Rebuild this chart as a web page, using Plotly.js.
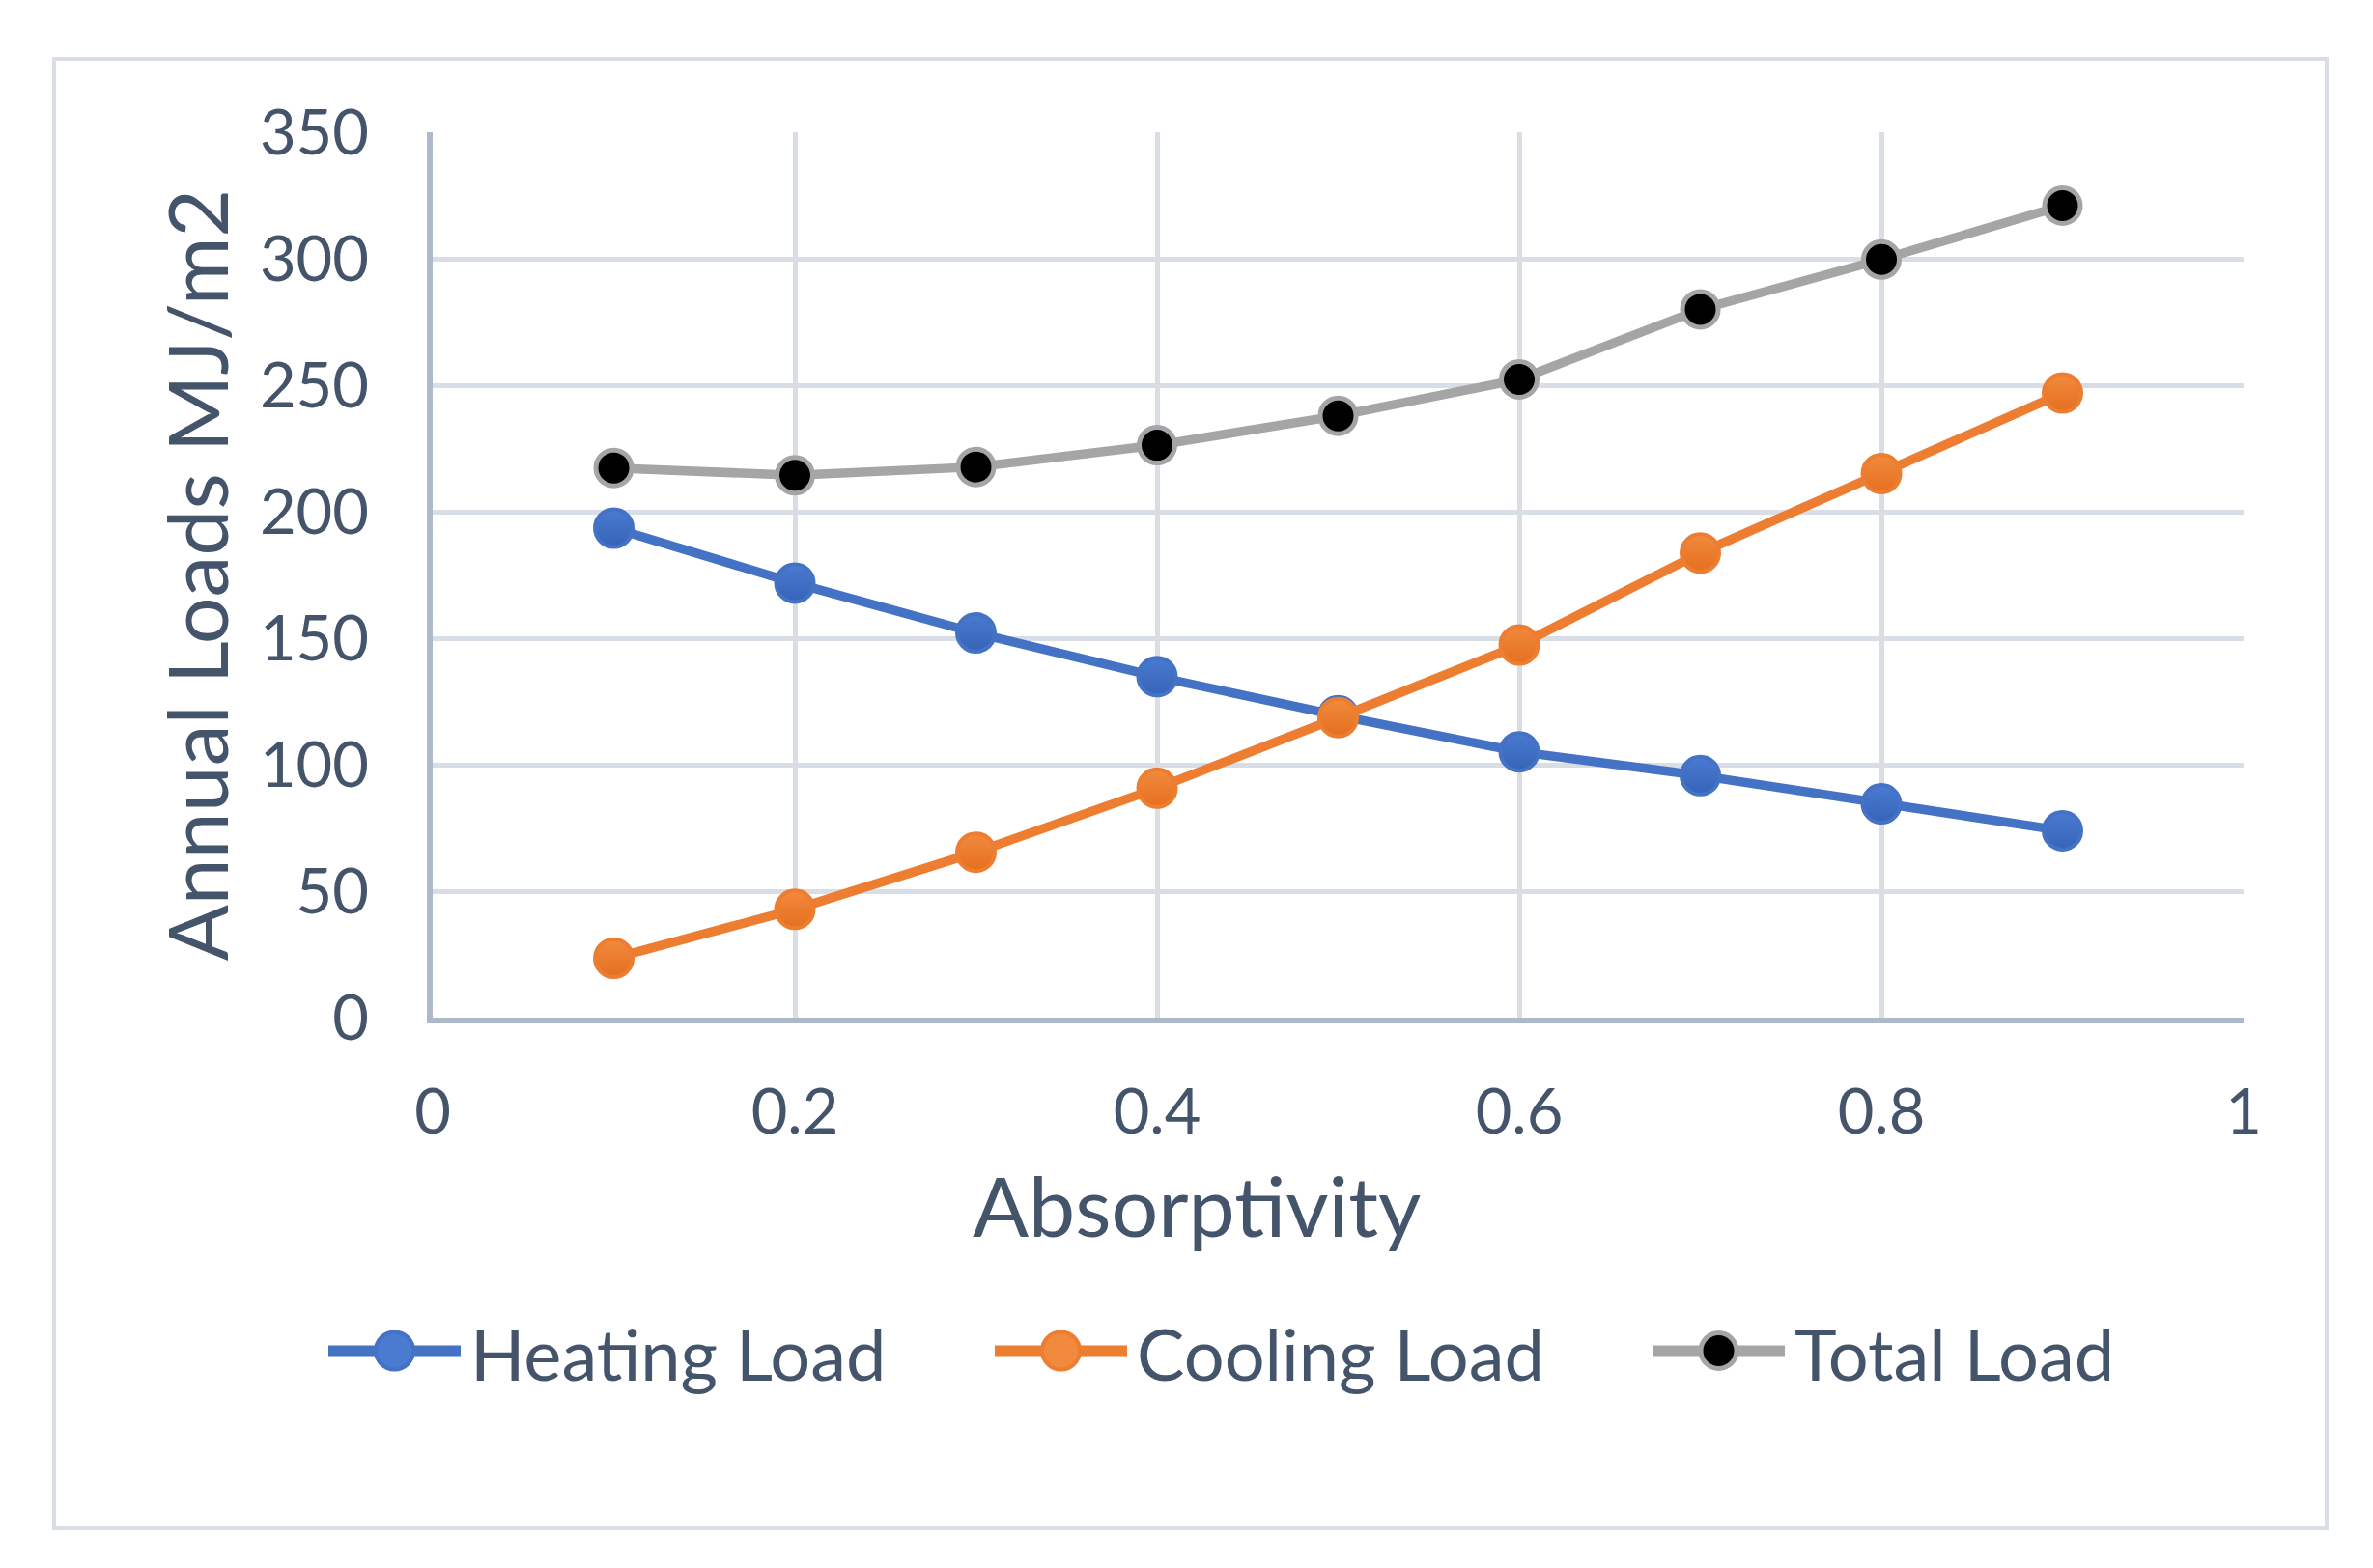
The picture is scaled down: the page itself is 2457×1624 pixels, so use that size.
<!DOCTYPE html>
<html>
<head>
<meta charset="utf-8">
<script src="https://cdn.plot.ly/plotly-3.0.1.min.js"></script>
<style>
  html, body { margin: 0; padding: 0; background: #ffffff; }
  #chart { width: 2457px; height: 1624px; }
  #frame { position: absolute; left: 54px; top: 59px; width: 2357px; height: 1526px;
           box-sizing: border-box; border: 4px solid #D9DEE6; pointer-events: none; }
</style>
</head>
<body>
<div id="chart"></div>
<div id="frame"></div>
<script>
const absorptivity = [0.1, 0.2, 0.3, 0.4, 0.5, 0.6, 0.7, 0.8, 0.9];
const heatingLoad  = [193.5, 171.8, 152.1, 134.8, 119.4, 105.1, 95.7, 84.5, 73.9];
const coolingLoad  = [23.5, 42.8, 65.4, 90.7, 118.6, 147.3, 183.7, 215.1, 246.9];
const totalLoad    = [217.3, 214.4, 217.7, 226.3, 237.9, 252.3, 280.0, 299.7, 321.0];
const seriesNames  = ['Heating Load', 'Cooling Load', 'Total Load'];
const xTicks = [0, 0.2, 0.4, 0.6, 0.8, 1];
const xTickText = ['0', '0.2', '0.4', '0.6', '0.8', '1'];
const yTicks = [0, 50, 100, 150, 200, 250, 300, 350];

const textColor = '#44546A';
const gridColor = '#D9DEE6';
const axisColor = '#ADB9CA';
const FONT = 'Lato, "Open Sans", sans-serif';

const styles = [
  { line: '#4472C4', fill: '#4A7BD0', edge: '#4472C4', grad: '#3563B8', size: 39, edgeW: 4 },
  { line: '#ED7D31', fill: '#F28A3E', edge: '#ED7D31', grad: '#E56F1E', size: 39, edgeW: 4 },
  { line: '#A5A5A5', fill: '#000000', edge: '#A5A5A5', grad: null, size: 37, edgeW: 5 }
];
const seriesValues = [heatingLoad, coolingLoad, totalLoad];

const traces = seriesValues.map((vals, i) => {
  const s = styles[i];
  const marker = { size: s.size, color: s.fill, line: { color: s.edge, width: s.edgeW } };
  if (s.grad) marker.gradient = { type: 'vertical', color: s.grad };
  return {
    x: absorptivity, y: vals, name: seriesNames[i], type: 'scatter', mode: 'lines+markers',
    line: { color: s.line, width: 9.5 }, marker: marker, showlegend: false
  };
});

// plot-area geometry in pixels (for converting legend layout to paper coords)
const M = { l: 448, r: 134, t: 137, b: 570 };
const W = 2457, H = 1624;
const plotW = W - M.l - M.r, plotH = H - M.t - M.b;
const px2x = px => (px - M.l) / plotW;
const py2y = py => (H - M.b - py) / plotH;

// custom legend (Plotly caps legend marker size, so it is built here)
const legendY = 1399;
const legendLineStart = [340, 1030, 1711];
const legendLineLen = 137;
const shapes = [];
const annotations = [];
seriesNames.forEach((name, i) => {
  const s = styles[i];
  const x0 = legendLineStart[i], x1 = x0 + legendLineLen, xc = (x0 + x1) / 2;
  shapes.push({ type: 'line', xref: 'paper', yref: 'paper',
    x0: px2x(x0), x1: px2x(x1), y0: py2y(legendY), y1: py2y(legendY),
    line: { color: s.line, width: 11 } });
  shapes.push({ type: 'circle', xref: 'paper', yref: 'paper',
    xsizemode: 'pixel', ysizemode: 'pixel', xanchor: px2x(xc), yanchor: py2y(legendY),
    x0: -s.size / 2, x1: s.size / 2, y0: -s.size / 2, y1: s.size / 2,
    fillcolor: s.fill, line: { color: s.edge, width: s.edgeW } });
  annotations.push({ text: name, xref: 'paper', yref: 'paper',
    x: px2x(x1 + 8), y: py2y(legendY + 2), xanchor: 'left', yanchor: 'middle', showarrow: false,
    font: { family: FONT, size: 74, color: textColor } });
});
annotations.push({ text: 'Absorptivity', xref: 'paper', yref: 'paper', x: px2x(1239), y: py2y(1247),
  xanchor: 'center', yanchor: 'middle', showarrow: false,
  font: { family: FONT, size: 86, color: textColor } });

const layout = {
  width: W, height: H,
  paper_bgcolor: '#ffffff', plot_bgcolor: '#ffffff',
  margin: { l: M.l, r: M.r, t: M.t, b: M.b, pad: 0 },
  font: { family: FONT, color: textColor, size: 66 },
  showlegend: false,
  xaxis: {
    range: [0, 1], tickvals: xTicks, ticktext: xTickText,
    showgrid: true, gridcolor: gridColor, gridwidth: 5,
    showline: true, linecolor: axisColor, linewidth: 6,
    zeroline: false, ticks: '', ticklabelstandoff: 36,
    tickfont: { family: FONT, size: 65, color: textColor },
    fixedrange: true
  },
  yaxis: {
    range: [0, 350], tickvals: yTicks,
    showgrid: true, gridcolor: gridColor, gridwidth: 5,
    showline: true, linecolor: axisColor, linewidth: 6,
    zeroline: false, ticks: '', ticklabelstandoff: 47,
    tickfont: { family: FONT, size: 65, color: textColor },
    title: { text: 'Annual Loads MJ/m2', font: { family: FONT, size: 86, color: textColor }, standoff: 6 },
    fixedrange: true
  },
  shapes: shapes,
  annotations: annotations
};

Plotly.newPlot('chart', traces, layout, { staticPlot: true, displayModeBar: false });
</script>
</body>
</html>
